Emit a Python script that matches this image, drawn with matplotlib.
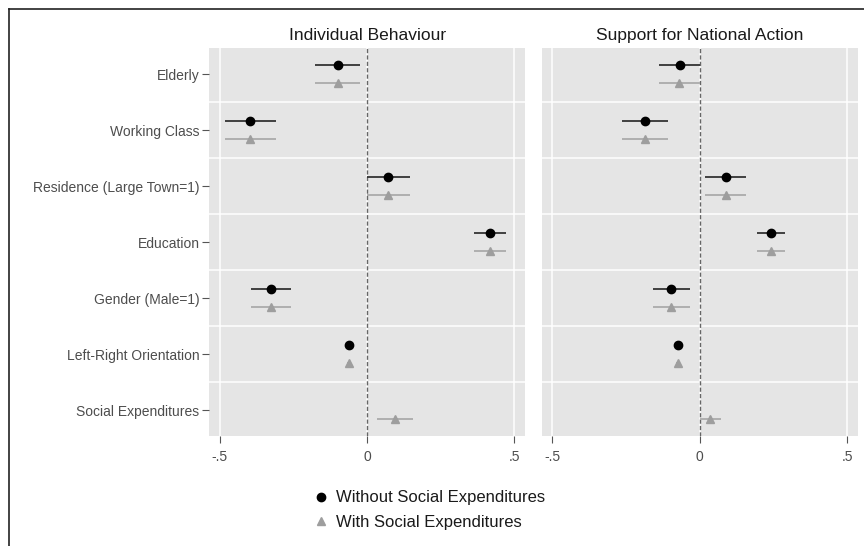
import numpy as np
import matplotlib
matplotlib.use("Agg")
import matplotlib.pyplot as plt
from matplotlib.lines import Line2D

plt.rcParams['font.family'] = ['Liberation Sans', 'DejaVu Sans']

# 변수 이름 (위에서 아래 순서)
variables = ["Elderly", "Working Class", "Residence (Large Town=1)", "Education",
             "Gender (Male=1)", "Left-Right Orientation", "Social Expenditures"]
panel_titles = ["Individual Behaviour", "Support for National Action"]

# Individual Behaviour - without / with social expenditures
ib_without = [-0.098, -0.398, 0.070, 0.418, -0.327, -0.061, np.nan]
ib_without_lo = [-0.175, -0.483, 0.000, 0.364, -0.392, -0.068, np.nan]
ib_without_hi = [-0.024, -0.310, 0.146, 0.472, -0.259, -0.054, np.nan]
ib_with = [-0.099, -0.398, 0.070, 0.418, -0.327, -0.062, 0.095]
ib_with_lo = [-0.176, -0.483, 0.000, 0.364, -0.392, -0.069, 0.034]
ib_with_hi = [-0.024, -0.310, 0.146, 0.472, -0.259, -0.055, 0.156]

# Support for National Action - without / with social expenditures
sna_without = [-0.068, -0.186, 0.088, 0.243, -0.097, -0.073, np.nan]
sna_without_lo = [-0.137, -0.262, 0.018, 0.194, -0.158, -0.080, np.nan]
sna_without_hi = [0.000, -0.108, 0.158, 0.291, -0.034, -0.066, np.nan]
sna_with = [-0.069, -0.186, 0.088, 0.243, -0.097, -0.074, 0.034]
sna_with_lo = [-0.138, -0.262, 0.018, 0.194, -0.158, -0.081, 0.000]
sna_with_hi = [0.000, -0.108, 0.158, 0.291, -0.034, -0.067, 0.072]

x_ticks = [-0.5, 0, 0.5]
x_ticklabels = ["-.5", "0", ".5"]

panels = [
    (ib_without, ib_without_lo, ib_without_hi, ib_with, ib_with_lo, ib_with_hi),
    (sna_without, sna_without_lo, sna_without_hi, sna_with, sna_with_lo, sna_with_hi),
]

fig = plt.figure(figsize=(8.64, 5.46), dpi=100)
ax_left = fig.add_axes([0.2423, 0.2015, 0.3657, 0.7112])
ax_right = fig.add_axes([0.6273, 0.2015, 0.3657, 0.7112])
axes = [ax_left, ax_right]

n = len(variables)
ypos = np.arange(n)[::-1] + 1.0
offset = 0.16

for i, ax in enumerate(axes):
    wo, wo_lo, wo_hi, wi, wi_lo, wi_hi = [np.array(a, dtype=float) for a in panels[i]]
    ax.set_facecolor('#e5e5e5')
    for sp in ax.spines.values():
        sp.set_visible(False)

    # 격자 (흰색)
    ax.set_xticks(x_ticks)
    ax.set_yticks(np.arange(1.5, n, 1.0), minor=True)
    ax.grid(axis='x', which='major', color='white', lw=1.1)
    ax.grid(axis='y', which='minor', color='white', lw=1.1)
    ax.set_axisbelow(True)
    ax.axvline(0, color='#666666', lw=1.0, ls=(0, (3, 1.6)), zorder=2)

    # with social expenditures (회색 삼각형)
    ok = ~np.isnan(wi)
    ax.errorbar(wi[ok], ypos[ok] - offset,
                xerr=[wi[ok] - wi_lo[ok], wi_hi[ok] - wi[ok]],
                fmt='^', color='#9e9e9e', ecolor='#ababab', elinewidth=1.3,
                ms=5.5, capsize=0, zorder=3)
    # without social expenditures (검은 점)
    ok = ~np.isnan(wo)
    ax.errorbar(wo[ok], ypos[ok] + offset,
                xerr=[wo[ok] - wo_lo[ok], wo_hi[ok] - wo[ok]],
                fmt='o', color='black', ecolor='#333333', elinewidth=1.3,
                ms=6.0, capsize=0, zorder=4)

    ax.set_xlim(-0.535, 0.537)
    ax.set_ylim(0.545, n + 0.47)
    ax.set_xticklabels(x_ticklabels)
    ax.tick_params(axis='x', which='major', length=5, width=0.8, color='#555555',
                   labelsize=10, labelcolor='#4d4d4d', pad=5)
    ax.tick_params(axis='y', which='minor', length=0)
    ax.set_title(panel_titles[i], fontsize=12.5, color='#1a1a1a', pad=5.5)

    if i == 0:
        ax.set_yticks(ypos)
        ax.set_yticklabels(variables)
        ax.tick_params(axis='y', which='major', length=5, width=0.8, color='#555555',
                       labelsize=10, labelcolor='#4d4d4d', pad=2)
    else:
        ax.set_yticks([])

# 범례
handles = [
    Line2D([], [], marker='o', ls='none', color='black', ms=6.0),
    Line2D([], [], marker='^', ls='none', color='#9e9e9e', ms=5.5),
]
fig.legend(handles, ["Without Social Expenditures", "With Social Expenditures"],
           loc='center left', bbox_to_anchor=(0.3619, 0.0659), frameon=False,
           fontsize=12, handlelength=1.0, handletextpad=0.4, labelspacing=0.55,
           borderpad=0, borderaxespad=0, labelcolor='#1a1a1a')

# 그림 테두리 (위, 왼쪽)
fig.add_artist(Line2D([0.0101, 1.0], [1 - 9.3 / 546, 1 - 9.3 / 546],
                      transform=fig.transFigure, color='#222222', lw=1.2))
fig.add_artist(Line2D([0.0101, 0.0101], [0.0, 1 - 9.3 / 546],
                      transform=fig.transFigure, color='#222222', lw=1.2))

plt.savefig("out.png", dpi=100)
